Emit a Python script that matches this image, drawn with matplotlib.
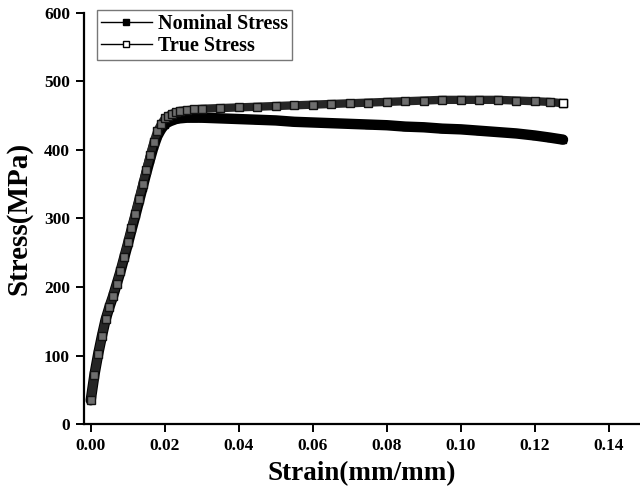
import matplotlib
matplotlib.use('Agg')
import matplotlib.pyplot as plt

plt.rcParams['font.family'] = ['Liberation Serif', 'DejaVu Serif']
plt.rcParams['font.weight'] = 'bold'

# Engineering (nominal) stress-strain
nominal_strain = [0.0, 0.001, 0.002, 0.003, 0.004, 0.005, 0.006, 0.007, 0.008, 0.009,
                  0.010, 0.011, 0.012, 0.013, 0.014, 0.015, 0.016, 0.017, 0.018, 0.019,
                  0.020, 0.021, 0.022, 0.023, 0.024, 0.026, 0.028, 0.030, 0.035, 0.040,
                  0.045, 0.050, 0.055, 0.060, 0.065, 0.070, 0.075, 0.080, 0.085, 0.090,
                  0.095, 0.100, 0.105, 0.110, 0.115, 0.120, 0.124, 0.1276]
nominal_stress = [35, 72, 102, 128, 152, 170, 186, 204, 222, 242,
                  262, 283, 303, 324, 345, 366, 386, 405, 420, 430,
                  437, 441, 443, 445, 446, 447, 447, 447, 446, 445,
                  444, 443, 441, 440, 439, 438, 437, 436, 434, 433,
                  431, 430, 428, 426, 424, 421, 418, 415]

true_strain = [0.0, 0.001, 0.002, 0.003, 0.004, 0.005, 0.006, 0.007, 0.008, 0.009,
               0.010, 0.011, 0.012, 0.013, 0.014, 0.015, 0.016, 0.017, 0.018, 0.019,
               0.020, 0.021, 0.022, 0.023, 0.024, 0.026, 0.028, 0.030, 0.035, 0.040,
               0.045, 0.050, 0.055, 0.060, 0.065, 0.070, 0.075, 0.080, 0.085, 0.090,
               0.095, 0.100, 0.105, 0.110, 0.115, 0.120, 0.124, 0.1276]
true_stress = [35, 72, 102, 128, 153, 171, 187, 205, 224, 244,
               265, 286, 307, 328, 350, 371, 392, 412, 428, 438,
               446, 450, 453, 455, 457, 458, 459, 460, 461, 462,
               463, 464, 465, 466, 467, 468, 469, 470, 471, 472,
               473, 473, 473, 473, 472, 471, 470, 468]

fig = plt.figure(figsize=(6.4, 4.91), dpi=100)
ax = fig.add_axes([0.131, 0.136, 0.869, 0.838])

ax.plot(nominal_strain, nominal_stress, color='black', lw=7.5, solid_capstyle='round',
        zorder=2)
ax.plot(nominal_strain, nominal_stress, ls='none', marker='s', ms=5,
        mfc='black', mec='black', zorder=3)
ax.plot(true_strain, true_stress, color='#262626', lw=6, solid_capstyle='butt',
        zorder=4)
ax.plot(true_strain, true_stress, ls='none', marker='s', ms=5.5,
        mfc='#6e6e6e', mec='#111111', mew=1.0, zorder=5)
ax.plot(true_strain[-1:], true_stress[-1:], ls='none', marker='s', ms=6,
        mfc='white', mec='black', mew=1.0, zorder=6)

h1, = ax.plot([], [], color='black', lw=1, marker='s', ms=4, mfc='black', mec='black')
h2, = ax.plot([], [], color='black', lw=1, marker='s', ms=4, mfc='white', mec='black')
leg = ax.legend([h1, h2], ['Nominal Stress', 'True Stress'],
                loc='upper left', bbox_to_anchor=(0.024, 1.007),
                fontsize=14.5, handlelength=2.5, handletextpad=0.3,
                borderpad=0.2, labelspacing=0.1, fancybox=False,
                framealpha=1, edgecolor='#777777', borderaxespad=0)
leg.get_frame().set_linewidth(1.0)

ax.set_xlim(-0.00186, 0.1484)
ax.set_ylim(0, 600)
ax.set_xticks([0.0, 0.02, 0.04, 0.06, 0.08, 0.10, 0.12, 0.14])
ax.set_xticklabels(['0.00', '0.02', '0.04', '0.06', '0.08', '0.10', '0.12', '0.14'])
ax.set_yticks([0, 100, 200, 300, 400, 500, 600])

for side in ['top', 'right']:
    ax.spines[side].set_visible(False)
for side in ['left', 'bottom']:
    ax.spines[side].set_linewidth(1.6)
ax.tick_params(direction='out', length=6, width=1.4, labelsize=12.5, pad=4)

ax.set_xlabel('Strain(mm/mm)', fontsize=19.5, fontweight='bold', labelpad=5)
ax.set_ylabel('Stress(MPa)', fontsize=21, fontweight='bold', labelpad=8)

fig.savefig('out.png', dpi=100)
